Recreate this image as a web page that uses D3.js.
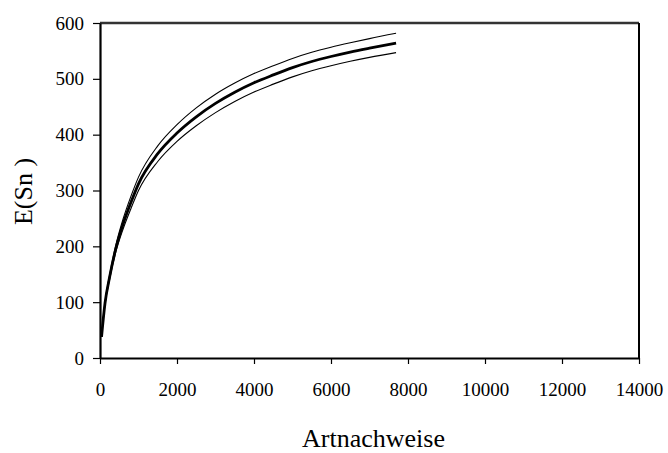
<!DOCTYPE html>
<html>
<head>
<meta charset="utf-8">
<script src="https://cdn.jsdelivr.net/npm/d3@7"></script>
<style>
  html, body { margin: 0; padding: 0; background: #fff; }
  svg { display: block; }
  svg text { font-family: "Liberation Serif", "Times New Roman", "DejaVu Serif", serif; fill: #000; }
</style>
</head>
<body>
<svg id="chart" width="668" height="453"></svg>
<script>
// Sample sizes (number of records) and expected species E(Sn)
const samples = [40, 130, 250, 400, 600, 800, 1000, 1500, 2000, 2500, 3000, 3500, 4000, 4500, 5000, 5500, 6000, 6500, 7000, 7690];
const meanValues  = [38, 98, 145, 193, 240, 278, 312, 366, 403, 432, 456, 476, 493, 507, 520, 531, 540, 548, 555, 564];
const upperValues = [38, 100, 149, 199, 249, 289, 324, 380, 418, 448, 472.5, 492.5, 509.5, 523.5, 536.5, 547.5, 556.5, 564.5, 572, 581.5];
const lowerValues = [38, 96, 141, 187, 231, 267, 300, 352, 388, 416, 439.5, 459.5, 476.5, 490.5, 503.5, 514.5, 523.5, 531.5, 538.5, 547];
const xTicks = [0, 2000, 4000, 6000, 8000, 10000, 12000, 14000];
const yTicks = [0, 100, 200, 300, 400, 500, 600];

const svg = d3.select("#chart");
const plot = { left: 100, right: 639, top: 23, bottom: 358 };
const serif = "'Liberation Serif', 'Times New Roman', 'DejaVu Serif', serif";

const x = d3.scaleLinear().domain([0, 14000]).range([plot.left, plot.right]);
const y = d3.scaleLinear().domain([0, 600]).range([plot.bottom, plot.top]);

// frame: top and right edges of the plot area
svg.append("line").attr("x1", plot.left).attr("x2", plot.right).attr("y1", plot.top).attr("y2", plot.top)
  .attr("stroke", "#333").attr("stroke-width", 2.4);
svg.append("line").attr("x1", plot.right).attr("x2", plot.right).attr("y1", plot.top).attr("y2", plot.bottom)
  .attr("stroke", "#000").attr("stroke-width", 2);

// axes
const xAxis = svg.append("g").attr("transform", `translate(0,${plot.bottom})`)
  .call(d3.axisBottom(x).tickValues(xTicks).tickFormat(d3.format("d")).tickSizeInner(6).tickSizeOuter(0).tickPadding(19));
const yAxis = svg.append("g").attr("transform", `translate(${plot.left},0)`)
  .call(d3.axisLeft(y).tickValues(yTicks).tickFormat(d3.format("d")).tickSizeInner(7).tickSizeOuter(0).tickPadding(9));

[xAxis, yAxis].forEach(g => {
  g.attr("font-family", serif).attr("font-size", 19);
  g.select(".domain").attr("stroke", "#000").attr("stroke-width", 2.2);
  g.selectAll(".tick line").attr("stroke", "#000").attr("stroke-width", 1.2);
  g.selectAll(".tick text").style("font-family", serif).style("font-size", "19px").attr("fill", "#000");
});

// curves
const series = [
  { values: upperValues, width: 1.1 },
  { values: lowerValues, width: 1.1 },
  { values: meanValues, width: 2.8 }
];
const line = d3.line()
  .x((d, i) => x(samples[i]))
  .y(d => y(d))
  .curve(d3.curveMonotoneX);

svg.append("g").selectAll("path").data(series).join("path")
  .attr("d", s => line(s.values))
  .attr("fill", "none")
  .attr("stroke", "#000")
  .attr("stroke-width", s => s.width)
  .attr("stroke-linejoin", "round");

// axis titles
svg.append("text")
  .attr("x", (plot.left + plot.right) / 2 + 4)
  .attr("y", 447)
  .attr("text-anchor", "middle")
  .style("font-family", serif)
  .style("font-size", "26px")
  .text("Artnachweise");

svg.append("text")
  .attr("transform", `translate(32,${(plot.top + plot.bottom) / 2 + 1}) rotate(-90)`)
  .attr("text-anchor", "middle")
  .style("font-family", serif)
  .style("font-size", "26px")
  .text("E(Sn )");
</script>
</body>
</html>
